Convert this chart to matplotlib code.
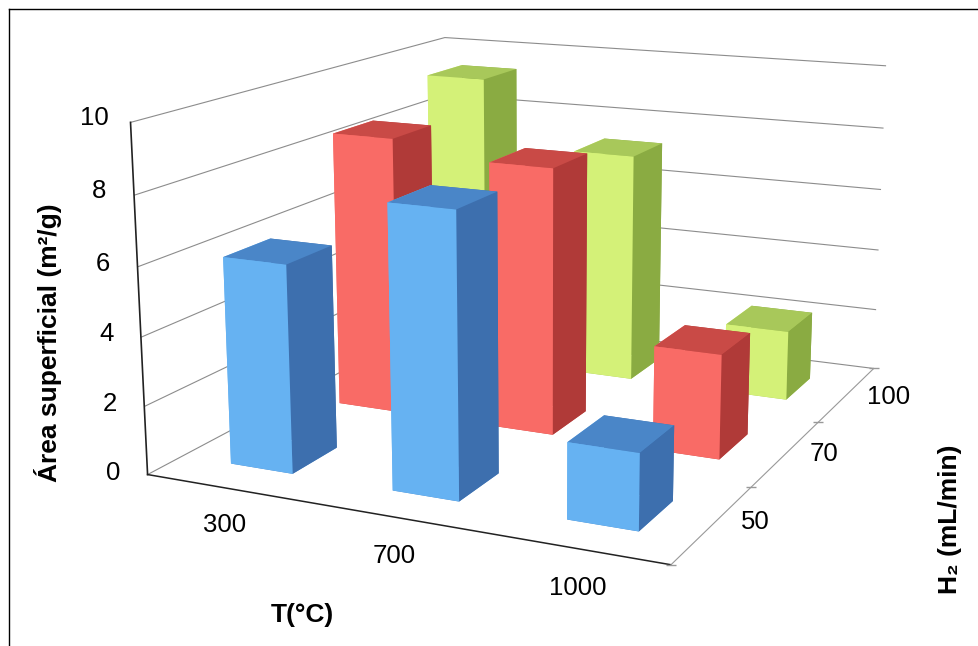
import matplotlib
matplotlib.use('Agg')
import matplotlib.pyplot as plt
import numpy as np

plt.rcParams['font.family'] = ['Liberation Sans', 'DejaVu Sans']

temperaturas = ['300', '700', '1000']
fluxos = ['50', '70', '100']
area_50 = [6.05, 8.08, 2.15]
area_70 = [8.5, 8.05, 3.12]
area_100 = [9.4, 7.3, 2.2]
faces_50 = ['#4a86c8', '#4a86c8', '#66b2f2', '#3d6fae', '#66b2f2', '#3d6fae']
faces_70 = ['#c94a46', '#c94a46', '#f96b66', '#b03a38', '#f96b66', '#b03a38']
faces_100 = ['#a8c85a', '#a8c85a', '#d4f178', '#8aab42', '#d4f178', '#8aab42']
ticks_z = [0, 2, 4, 6, 8, 10]

fig = plt.figure(figsize=(9.79, 6.46), dpi=100)
ax = fig.add_axes([0.1041, -0.0760, 0.8700, 1.3184], projection='3d')
ax.set_xlim(0, 3, view_margin=0)
ax.set_ylim(0, 3, view_margin=0)
ax.set_zlim(0, 10, view_margin=0)
ax.set_proj_type('persp', focal_length=0.4464)
ax.view_init(elev=13.90, azim=-65.29)
ax.set_box_aspect((1, 1.1727, 0.6373))

xs, ys, alturas, cores = [], [], [], []
for j, (valores, faces) in enumerate(zip([area_50, area_70, area_100], [faces_50, faces_70, faces_100])):
    for i, v in enumerate(valores):
        xs.append(i + 0.31)
        ys.append(j + 0.285)
        alturas.append(v)
        cores.extend(faces)

ax.bar3d(xs, ys, np.zeros(9), 0.39, 0.40, alturas, color=cores, shade=False, edgecolor='none')

# ticks deslocados para os rotulos cairem onde estao no original
ax.set_xticks([0.58, 1.58, 2.58])
ax.set_xticklabels(temperaturas, fontsize=18.5)
ax.set_yticks([0.76, 1.76, 2.76])
ax.set_yticklabels(fluxos, fontsize=18.5, ha='left')
ax.set_zticks(ticks_z)
ax.set_zticklabels(ticks_z, fontsize=18.5, va='baseline')
ax.zaxis.set_ticks_position('lower')
ax.tick_params(axis='x', pad=5.0)
ax.tick_params(axis='y', pad=-3.7)
ax.tick_params(axis='z', pad=4.7)

for eixo in [ax.xaxis, ax.yaxis, ax.zaxis]:
    eixo.set_pane_color((1, 1, 1, 0))
    eixo.pane.set_edgecolor('none')
    eixo._axinfo['tick']['inward_factor'] = 0
    eixo._axinfo['tick']['outward_factor'] = 0
ax.xaxis._axinfo['grid']['linewidth'] = 0
ax.yaxis._axinfo['grid']['linewidth'] = 0
ax.zaxis._axinfo['grid'].update(color='#8c8c8c', linewidth=0.8)
ax.xaxis.line.set_color('#222222')
ax.xaxis.line.set_linewidth(1.1)
ax.yaxis.line.set_color('#999999')
ax.zaxis.line.set_color('#222222')
ax.zaxis.line.set_linewidth(1.2)

for v in [0, 1, 2, 3]:
    ax.scatter([3], [v], [0], marker='_', s=45, color='#999999', linewidths=1, depthshade=False)

fig.text(302/979, 1 - 615/646, 'T(°C)', fontsize=19, fontweight='bold', ha='center', va='center')
fig.text(950/979, 1 - 519/646, 'H₂ (mL/min)', fontsize=19, fontweight='bold', rotation=90, ha='center', va='center')
fig.text(48/979, 1 - 343/646, 'Área superficial (m²/g)', fontsize=19, fontweight='bold', rotation=90, ha='center', va='center')

fig.add_artist(plt.Line2D([0.0092, 0.0092], [0, 0.986], color='black', linewidth=1))
fig.add_artist(plt.Line2D([0.0092, 1], [0.986, 0.986], color='black', linewidth=1))
fig.savefig('out.png', dpi=100)
